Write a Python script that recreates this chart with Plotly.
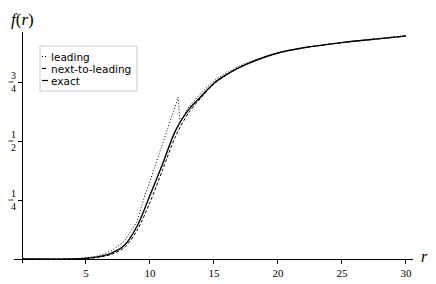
import plotly.graph_objects as go

# ---- data ----
r_exact = [0, 4, 5, 6, 7, 8, 9, 10, 11, 12, 13, 14, 15, 16, 17, 18, 20, 22, 25, 28, 30]
f_exact = [0, 0, 0.003, 0.01, 0.025, 0.058, 0.14, 0.27, 0.405, 0.545, 0.632, 0.69,
           0.745, 0.782, 0.812, 0.836, 0.873, 0.895, 0.917, 0.934, 0.945]

r_ntl = [0, 4, 5, 6, 7, 8, 9, 10, 11, 12, 13, 14, 15, 16, 17, 18, 20, 22, 25, 28, 30]
f_ntl = [0, 0, 0.002, 0.007, 0.02, 0.048, 0.122, 0.24, 0.38, 0.52, 0.618, 0.684,
         0.742, 0.781, 0.812, 0.836, 0.873, 0.895, 0.917, 0.934, 0.945]

r_lead = [0, 4, 5, 6, 7, 8, 9, 9.6, 10, 11, 12, 12.2, 12.35, 13, 14, 15, 16, 17, 18,
          20, 22, 25, 28, 30]
f_lead = [0, 0, 0.004, 0.013, 0.035, 0.075, 0.16, 0.27, 0.33, 0.49, 0.65, 0.685, 0.578,
          0.642, 0.705, 0.755, 0.79, 0.818, 0.84, 0.874, 0.896, 0.918, 0.935, 0.946]

x_ticks = [5, 10, 15, 20, 25, 30]
y_ticks = [0.25, 0.5, 0.75]
y_ticktext = ["1<br>4", "1<br>2", "3<br>4"]

names = ["leading", "next-to-leading", "exact"]

# ---- layout geometry (window pixels; page body has an 8px margin) ----
OFF = 8
WIN_W, WIN_H = 436, 284
W, H = WIN_W - OFF, WIN_H - OFF
L, R, T, B = 14 - OFF, 413 - OFF, 32 - OFF, 263 - OFF
XR = [-0.625, 30.55]
YR = [-0.017, 0.962]

def px(xp):
    return (xp - OFF - L) / (R - L)

def py(yp):
    return (B - (yp - OFF)) / (B - T)

fig = go.Figure()
fig.add_trace(go.Scatter(x=r_lead, y=f_lead, mode="lines", name=names[0],
                         line=dict(color="black", width=1, dash="1px,2px"), showlegend=False))
fig.add_trace(go.Scatter(x=r_ntl, y=f_ntl, mode="lines", name=names[1],
                         line=dict(color="black", width=1, dash="3px,2px", shape="spline", smoothing=0.8),
                         showlegend=False))
fig.add_trace(go.Scatter(x=r_exact, y=f_exact, mode="lines", name=names[2],
                         line=dict(color="black", width=1.4, shape="spline", smoothing=0.8),
                         showlegend=False))

fig.update_layout(
    width=W, height=H,
    margin=dict(l=L, r=W - R, t=T, b=H - B, pad=0, autoexpand=False),
    paper_bgcolor="white", plot_bgcolor="white",
    xaxis=dict(range=XR, anchor="free", position=(0 - YR[0]) / (YR[1] - YR[0]),
               automargin=False,
               showline=True, linecolor="black", linewidth=1,
               showgrid=False, zeroline=False,
               tickmode="array", tickvals=x_ticks, ticktext=[str(v) for v in x_ticks],
               ticks="outside", ticklen=4, tickcolor="black", tickwidth=1,
               tickfont=dict(family="Liberation Serif", size=11, color="black")),
    yaxis=dict(range=YR, anchor="free", position=(0 - XR[0]) / (XR[1] - XR[0]),
               automargin=False,
               showline=True, linecolor="black", linewidth=1,
               showgrid=False, zeroline=False,
               tickmode="array", tickvals=y_ticks, ticktext=y_ticktext,
               ticks="outside", ticklen=4, tickcolor="black", tickwidth=1,
               tickfont=dict(family="Liberation Serif", size=10, color="black")),
)

# fraction bars for the y tick labels
for v in y_ticks:
    fig.add_shape(type="line", xref="paper", yref="y",
                  x0=px(8.5), x1=px(13.5), y0=v, y1=v,
                  line=dict(color="black", width=0.8))

# axis titles
fig.add_annotation(text="<i>f</i>(<i>r</i>)", xref="paper", yref="paper",
                   x=px(9), y=py(20), xanchor="left", yanchor="middle", showarrow=False,
                   font=dict(family="Liberation Serif", size=17, color="black"))
fig.add_annotation(text="<i>r</i>", xref="paper", yref="paper",
                   x=px(424), y=py(256), xanchor="center", yanchor="middle", showarrow=False,
                   font=dict(family="Liberation Serif", size=16, color="black"))

# custom compact legend
fig.add_shape(type="rect", xref="paper", yref="paper",
              x0=px(40), x1=px(137), y0=py(91), y1=py(46),
              line=dict(color="#cccccc", width=1), fillcolor="white", layer="above")
dashes = ["1px,2px", "4px,2px", "solid"]
rows = [56.5, 68.5, 80.5]
for name, d, yy in zip(names, dashes, rows):
    fig.add_shape(type="line", xref="paper", yref="paper",
                  x0=px(42), x1=px(48), y0=py(yy), y1=py(yy),
                  line=dict(color="black", width=1.2, dash=d), layer="above")
    fig.add_annotation(text=name, xref="paper", yref="paper",
                       x=px(49), y=py(yy), xanchor="left", yanchor="middle", showarrow=False,
                       font=dict(family="DejaVu Sans", size=10.5, color="black"))

fig.write_html("out.html")
